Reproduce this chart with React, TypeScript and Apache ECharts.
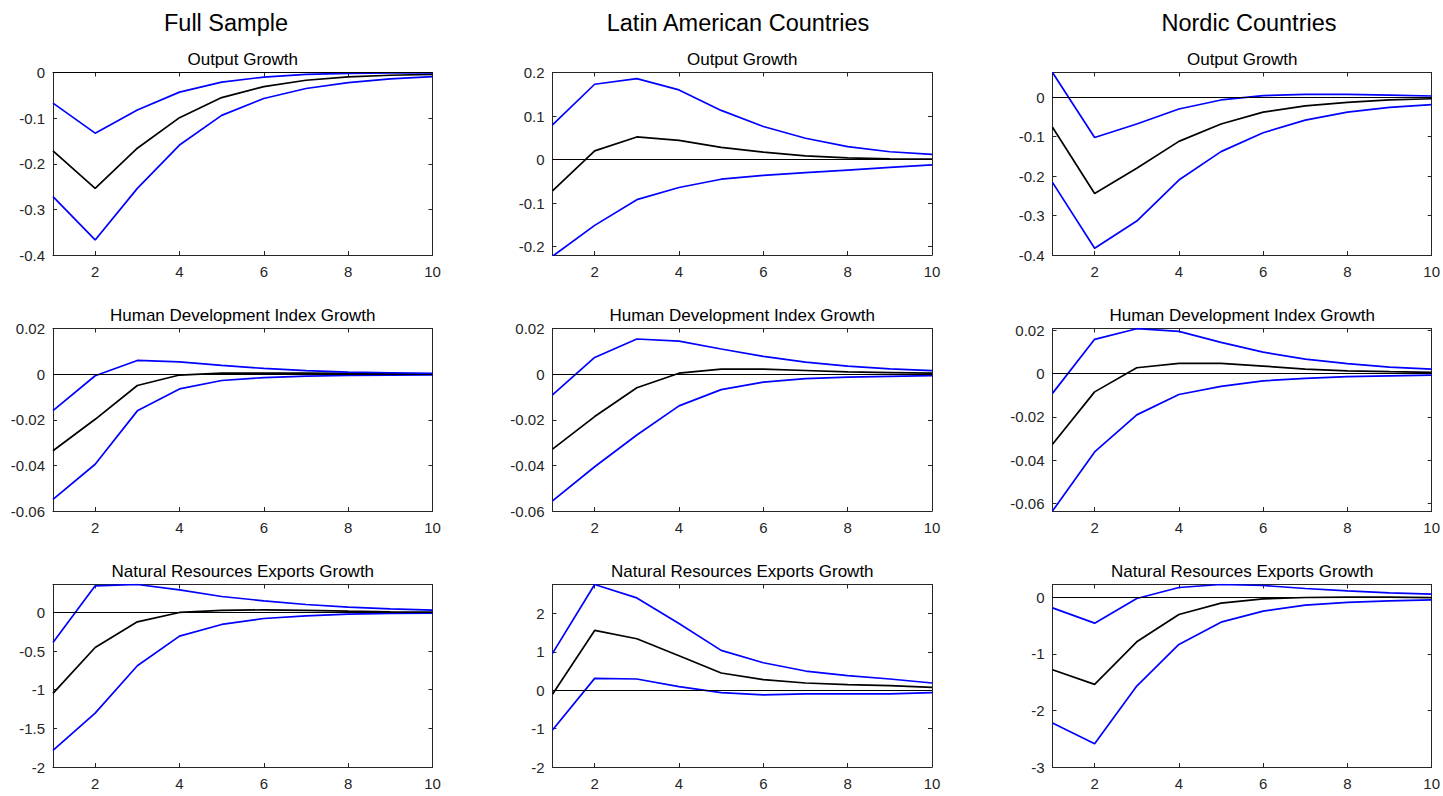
import React, { useEffect, useRef } from "react";
import * as echarts from "echarts";

// ---------- data ----------
const STEPS = [1, 2, 3, 4, 5, 6, 7, 8, 9, 10];
const X_TICKS = [2, 4, 6, 8, 10];

const COLUMN_HEADINGS = ["Full Sample", "Latin American Countries", "Nordic Countries"];
const ROW_TITLES = ["Output Growth", "Human Development Index Growth", "Natural Resources Exports Growth"];

// Full sample
const fullOutputUpper = [-0.067, -0.133, -0.082, -0.043, -0.021, -0.01, -0.004, -0.002, -0.001, -0.001];
const fullOutputMid = [-0.172, -0.254, -0.166, -0.099, -0.055, -0.031, -0.017, -0.0095, -0.006, -0.004];
const fullOutputLower = [-0.272, -0.367, -0.254, -0.159, -0.094, -0.057, -0.035, -0.022, -0.014, -0.009];

const fullHdiUpper = [-0.016, -0.0007, 0.006, 0.0054, 0.0038, 0.0025, 0.0015, 0.0009, 0.0006, 0.0003];
const fullHdiMid = [-0.0336, -0.0198, -0.005, -0.0004, 0.0004, 0.0005, 0.0004, 0.0003, 0.0001, 0.0001];
const fullHdiLower = [-0.0549, -0.0395, -0.0161, -0.0065, -0.0028, -0.0015, -0.0009, -0.0006, -0.0004, -0.0003];

const fullNrxUpper = [-0.388, 0.345, 0.362, 0.293, 0.207, 0.151, 0.103, 0.069, 0.047, 0.03];
const fullNrxMid = [-1.047, -0.453, -0.121, 0.0, 0.026, 0.034, 0.026, 0.017, 0.009, 0.004];
const fullNrxLower = [-1.784, -1.302, -0.69, -0.306, -0.155, -0.078, -0.043, -0.022, -0.013, -0.009];

// Latin American countries
const latamOutputUpper = [0.08, 0.173, 0.186, 0.16, 0.113, 0.076, 0.049, 0.03, 0.018, 0.012];
const latamOutputMid = [-0.072, 0.02, 0.052, 0.044, 0.028, 0.017, 0.0085, 0.004, 0.0015, 0.001];
const latamOutputLower = [-0.222, -0.151, -0.092, -0.064, -0.045, -0.036, -0.03, -0.024, -0.018, -0.012];

const latamHdiUpper = [-0.0091, 0.0073, 0.0154, 0.0145, 0.011, 0.0078, 0.0053, 0.0035, 0.0023, 0.0015];
const latamHdiMid = [-0.0329, -0.0186, -0.006, 0.0004, 0.0022, 0.0022, 0.0016, 0.001, 0.0007, 0.0004];
const latamHdiLower = [-0.0556, -0.0406, -0.0267, -0.0139, -0.0068, -0.0035, -0.002, -0.0013, -0.001, -0.0007];

const latamNrxUpper = [0.963, 2.76, 2.41, 1.744, 1.041, 0.72, 0.503, 0.382, 0.295, 0.191];
const latamNrxMid = [-0.104, 1.562, 1.345, 0.902, 0.451, 0.278, 0.191, 0.148, 0.121, 0.078];
const latamNrxLower = [-1.033, 0.312, 0.295, 0.095, -0.061, -0.121, -0.095, -0.095, -0.095, -0.061];

// Nordic countries
const nordicOutputUpper = [0.0626, -0.102, -0.068, -0.03, -0.007, 0.004, 0.007, 0.007, 0.005, 0.003];
const nordicOutputMid = [-0.076, -0.244, -0.18, -0.112, -0.068, -0.038, -0.022, -0.013, -0.007, -0.004];
const nordicOutputLower = [-0.216, -0.383, -0.314, -0.21, -0.138, -0.09, -0.058, -0.038, -0.026, -0.019];

const nordicHdiUpper = [-0.0092, 0.0157, 0.0206, 0.0194, 0.0143, 0.0098, 0.0066, 0.0045, 0.0029, 0.002];
const nordicHdiMid = [-0.0326, -0.0085, 0.0026, 0.0046, 0.0046, 0.0034, 0.002, 0.0012, 0.0008, 0.0005];
const nordicHdiLower = [-0.0634, -0.0362, -0.0191, -0.0097, -0.006, -0.0034, -0.0023, -0.0015, -0.0011, -0.0008];

const nordicNrxUpper = [-0.183, -0.454, -0.018, 0.177, 0.23, 0.212, 0.159, 0.118, 0.082, 0.059];
const nordicNrxMid = [-1.279, -1.538, -0.784, -0.301, -0.1, -0.024, 0.0, 0.006, 0.006, -0.003];
const nordicNrxLower = [-2.222, -2.587, -1.567, -0.831, -0.436, -0.242, -0.136, -0.088, -0.059, -0.041];

// y tick labels
const Y_TICKS_OUTPUT_NEG = [-0.4, -0.3, -0.2, -0.1, 0];
const Y_TICKS_OUTPUT_SYM = [-0.2, -0.1, 0, 0.1, 0.2];
const Y_TICKS_HDI = [-0.06, -0.04, -0.02, 0, 0.02];
const Y_TICKS_NRX_FULL = [-2, -1.5, -1, -0.5, 0];
const Y_TICKS_NRX_LATAM = [-2, -1, 0, 1, 2];
const Y_TICKS_NRX_NORDIC = [-3, -2, -1, 0];

// y ranges [min, max]
const Y_RANGE_FULL_OUTPUT = [-0.4, 0];
const Y_RANGE_LATAM_OUTPUT = [-0.219, 0.2];
const Y_RANGE_NORDIC_OUTPUT = [-0.4, 0.0626];
const Y_RANGE_FULL_HDI = [-0.06, 0.02];
const Y_RANGE_LATAM_HDI = [-0.06, 0.02];
const Y_RANGE_NORDIC_HDI = [-0.0634, 0.0207];
const Y_RANGE_FULL_NRX = [-2, 0.362];
const Y_RANGE_LATAM_NRX = [-2, 2.76];
const Y_RANGE_NORDIC_NRX = [-3, 0.23];

// ---------- layout ----------
const COL_LEFT = [53, 552.5, 1052.5];
const PLOT_W = 379.5;
const ROW_TOP = [72.5, 328.5, 584.5];
const PLOT_H = 182.5;
const HEADING_X = [226, 738, 1249];
const HEADING_Y = 23;
const TITLE_OFFSET = 13.5;

const AXIS_COLOR = "#262626";
const FONT = "'Liberation Sans', Arial, Helvetica, sans-serif";
const BLUE = "#0000ff";
const CURVE_WIDTH = 1.7;

type Panel = {
  row: number;
  col: number;
  upper: number[];
  mid: number[];
  lower: number[];
  range: number[];
  ticks: number[];
};

const PANELS: Panel[] = [
  { row: 0, col: 0, upper: fullOutputUpper, mid: fullOutputMid, lower: fullOutputLower, range: Y_RANGE_FULL_OUTPUT, ticks: Y_TICKS_OUTPUT_NEG },
  { row: 0, col: 1, upper: latamOutputUpper, mid: latamOutputMid, lower: latamOutputLower, range: Y_RANGE_LATAM_OUTPUT, ticks: Y_TICKS_OUTPUT_SYM },
  { row: 0, col: 2, upper: nordicOutputUpper, mid: nordicOutputMid, lower: nordicOutputLower, range: Y_RANGE_NORDIC_OUTPUT, ticks: Y_TICKS_OUTPUT_NEG },
  { row: 1, col: 0, upper: fullHdiUpper, mid: fullHdiMid, lower: fullHdiLower, range: Y_RANGE_FULL_HDI, ticks: Y_TICKS_HDI },
  { row: 1, col: 1, upper: latamHdiUpper, mid: latamHdiMid, lower: latamHdiLower, range: Y_RANGE_LATAM_HDI, ticks: Y_TICKS_HDI },
  { row: 1, col: 2, upper: nordicHdiUpper, mid: nordicHdiMid, lower: nordicHdiLower, range: Y_RANGE_NORDIC_HDI, ticks: Y_TICKS_HDI },
  { row: 2, col: 0, upper: fullNrxUpper, mid: fullNrxMid, lower: fullNrxLower, range: Y_RANGE_FULL_NRX, ticks: Y_TICKS_NRX_FULL },
  { row: 2, col: 1, upper: latamNrxUpper, mid: latamNrxMid, lower: latamNrxLower, range: Y_RANGE_LATAM_NRX, ticks: Y_TICKS_NRX_LATAM },
  { row: 2, col: 2, upper: nordicNrxUpper, mid: nordicNrxMid, lower: nordicNrxLower, range: Y_RANGE_NORDIC_NRX, ticks: Y_TICKS_NRX_NORDIC },
];

const fmt = (v: number) => String(+Number(v).toFixed(4));

function buildOption() {
  const grid: any[] = [];
  const xAxis: any[] = [];
  const yAxis: any[] = [];
  const series: any[] = [];
  const graphic: any[] = [];

  const lineStyle = { color: AXIS_COLOR, width: 1 };
  const labelStyle = { color: AXIS_COLOR, fontSize: 15, fontFamily: FONT };

  PANELS.forEach((p, k) => {
    const left = COL_LEFT[p.col];
    const top = ROW_TOP[p.row];
    grid.push({ left, top, width: PLOT_W, height: PLOT_H, containLabel: false, show: false });

    const xBase = {
      gridIndex: k,
      type: "value",
      min: 1,
      max: 10,
      splitLine: { show: false },
      axisLine: { show: true, onZero: false, lineStyle },
      axisTick: { show: true, inside: true, length: 4, customValues: X_TICKS, lineStyle },
    };
    xAxis.push({
      ...xBase,
      position: "bottom",
      axisLabel: { show: true, customValues: X_TICKS, margin: 9, formatter: fmt, ...labelStyle },
    });
    xAxis.push({ ...xBase, position: "top", axisLabel: { show: false } });

    const yBase = {
      gridIndex: k,
      type: "value",
      min: p.range[0],
      max: p.range[1],
      splitLine: { show: false },
      axisLine: { show: true, onZero: false, lineStyle },
      axisTick: { show: true, inside: true, length: 4, customValues: p.ticks, lineStyle },
    };
    yAxis.push({
      ...yBase,
      position: "left",
      axisLabel: { show: true, customValues: p.ticks, margin: 8, formatter: fmt, ...labelStyle },
    });
    yAxis.push({ ...yBase, position: "right", axisLabel: { show: false } });

    const toData = (arr: number[]) => STEPS.map((s, i) => [s, arr[i]]);
    const common = {
      type: "line",
      xAxisIndex: 2 * k,
      yAxisIndex: 2 * k,
      symbol: "none",
      showSymbol: false,
      smooth: false,
      clip: true,
      silent: true,
    };
    series.push({
      ...common,
      name: `mid-${k}`,
      data: toData(p.mid),
      lineStyle: { color: "#000", width: CURVE_WIDTH },
      itemStyle: { color: "#000" },
      z: 3,
      markLine: {
        silent: true,
        symbol: ["none", "none"],
        label: { show: false },
        lineStyle: { color: "#000", width: 1, type: "solid" },
        data: [{ yAxis: 0 }],
        animation: false,
      },
    });
    series.push({ ...common, name: `upper-${k}`, data: toData(p.upper), lineStyle: { color: BLUE, width: CURVE_WIDTH }, itemStyle: { color: BLUE }, z: 4 });
    series.push({ ...common, name: `lower-${k}`, data: toData(p.lower), lineStyle: { color: BLUE, width: CURVE_WIDTH }, itemStyle: { color: BLUE }, z: 4 });

    graphic.push({
      type: "text",
      x: left + PLOT_W / 2,
      y: top - TITLE_OFFSET,
      style: {
        text: ROW_TITLES[p.row],
        fill: "#000",
        font: `17px ${FONT}`,
        textAlign: "center",
        textVerticalAlign: "middle",
      },
    });
  });

  COLUMN_HEADINGS.forEach((h, c) => {
    graphic.push({
      type: "text",
      x: HEADING_X[c],
      y: HEADING_Y,
      style: {
        text: h,
        fill: "#000",
        font: `23.5px ${FONT}`,
        textAlign: "center",
        textVerticalAlign: "middle",
      },
    });
  });

  return {
    animation: false,
    backgroundColor: "#fff",
    grid,
    xAxis,
    yAxis,
    series,
    graphic,
  };
}

export default function App() {
  const ref = useRef<HTMLDivElement>(null);
  useEffect(() => {
    if (!ref.current) return;
    const chart = echarts.init(ref.current, undefined, { renderer: "svg" });
    chart.setOption(buildOption() as any);
    return () => chart.dispose();
  }, []);
  return (
    <div
      ref={ref}
      style={{ position: "fixed", left: 0, top: 0, width: 1443, height: 796, background: "#fff" }}
    />
  );
}
